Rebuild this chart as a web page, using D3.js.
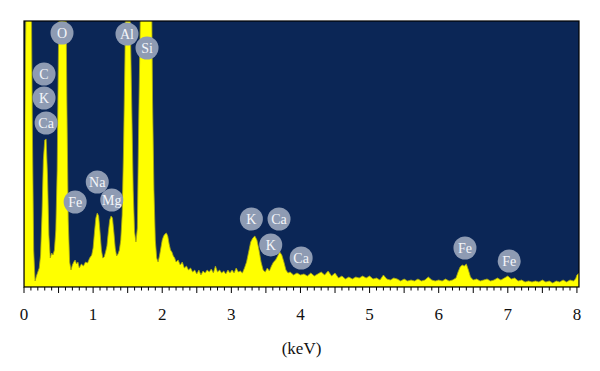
<!DOCTYPE html>
<html>
<head>
<meta charset="utf-8">
<script src="https://cdn.jsdelivr.net/npm/d3@7"></script>
<style>
    body { margin: 0; background: #fff; }
    svg { display: block; }
</style>
</head>
<body>
<div id="chart"></div>
<script>
// EDS spectrum, energy in keV vs counts
const energy = [
    0.00, 0.02, 0.04, 0.07, 0.10, 0.12, 0.14, 0.16, 0.18, 0.20, 0.22, 0.24, 0.26, 0.28, 0.30, 0.32, 0.34, 0.36, 0.38, 0.40,
    0.42, 0.44, 0.46, 0.48, 0.50, 0.52, 0.56, 0.60, 0.62, 0.64, 0.66, 0.68, 0.70, 0.72, 0.74, 0.76, 0.78, 0.80, 0.83, 0.86,
    0.89, 0.92, 0.95, 0.98, 1.00, 1.02, 1.04, 1.06, 1.08, 1.10, 1.12, 1.14, 1.16, 1.18, 1.20, 1.22, 1.24, 1.26, 1.28, 1.30,
    1.32, 1.34, 1.36, 1.38, 1.40, 1.42, 1.44, 1.46, 1.48, 1.50, 1.52, 1.54, 1.56, 1.58, 1.60, 1.62, 1.64, 1.66, 1.68, 1.70,
    1.76, 1.84, 1.86, 1.88, 1.90, 1.92, 1.94, 1.96, 1.98, 2.00, 2.02, 2.04, 2.06, 2.08, 2.10, 2.12, 2.14, 2.16, 2.18, 2.20,
    2.23, 2.26, 2.29, 2.32, 2.35, 2.38, 2.41, 2.44, 2.47, 2.50, 2.53, 2.56, 2.59, 2.62, 2.65, 2.68, 2.71, 2.74, 2.77, 2.80,
    2.83, 2.86, 2.89, 2.92, 2.95, 2.98, 3.01, 3.04, 3.07, 3.10, 3.13, 3.16, 3.19, 3.22, 3.25, 3.28, 3.31, 3.34, 3.37, 3.40,
    3.43, 3.46, 3.49, 3.52, 3.55, 3.58, 3.61, 3.64, 3.67, 3.70, 3.73, 3.76, 3.79, 3.82, 3.85, 3.90, 3.95, 4.00, 4.05, 4.10,
    4.15, 4.20, 4.25, 4.30, 4.35, 4.40, 4.45, 4.50, 4.55, 4.60, 4.65, 4.70, 4.75, 4.80, 4.85, 4.90, 4.95, 5.00, 5.05, 5.10,
    5.15, 5.20, 5.25, 5.30, 5.35, 5.40, 5.45, 5.50, 5.55, 5.60, 5.65, 5.70, 5.75, 5.80, 5.85, 5.90, 5.95, 6.00, 6.05, 6.10,
    6.15, 6.20, 6.25, 6.28, 6.31, 6.34, 6.37, 6.40, 6.43, 6.46, 6.50, 6.55, 6.60, 6.65, 6.70, 6.75, 6.80, 6.85, 6.90, 6.95,
    7.00, 7.05, 7.10, 7.15, 7.20, 7.25, 7.30, 7.35, 7.40, 7.45, 7.50, 7.55, 7.60, 7.65, 7.70, 7.75, 7.80, 7.85, 7.90, 7.95,
    7.98, 8.00, 8.03
];

const counts = [
    170, 2270, 3500, 3500, 3500, 1670, 370, 60, 110, 150, 190, 320, 720, 1270, 1470, 1480, 1120, 520, 290, 340,
    320, 370, 570, 1170, 2470, 3500, 3500, 3500, 1870, 670, 250, 170, 220, 250, 270, 230, 250, 190, 230, 210,
    250, 240, 290, 320, 390, 550, 690, 740, 710, 550, 370, 290, 300, 350, 410, 550, 670, 710, 690, 550,
    390, 310, 330, 370, 470, 720, 1370, 2270, 3500, 3500, 3500, 2570, 1770, 970, 550, 450, 590, 1670, 2570, 3500,
    3500, 3500, 1870, 970, 470, 290, 250, 310, 390, 470, 510, 530, 540, 510, 430, 370, 350, 310, 290, 250,
    270, 220, 250, 190, 210, 170, 190, 150, 170, 130, 170, 120, 160, 140, 170, 150, 180, 140, 210, 150,
    170, 140, 160, 130, 170, 140, 170, 140, 190, 150, 160, 140, 190, 250, 350, 450, 490, 510, 470, 370,
    250, 170, 150, 190, 160, 210, 250, 270, 310, 350, 320, 250, 170, 140, 150, 120, 140, 120, 130, 110,
    140, 110, 130, 150, 120, 160, 110, 140, 90, 110, 80, 100, 80, 100, 90, 110, 90, 110, 80, 90,
    70, 120, 80, 70, 90, 80, 60, 80, 60, 70, 60, 80, 60, 70, 100, 70, 60, 70, 60, 80,
    60, 70, 90, 150, 200, 220, 210, 230, 170, 100, 70, 80, 60, 70, 80, 60, 70, 90, 70, 90,
    110, 80, 90, 60, 70, 50, 60, 50, 60, 50, 70, 50, 60, 40, 60, 50, 70, 50, 70, 60,
    80, 120, 140
];

const xTicks = [0, 1, 2, 3, 4, 5, 6, 7, 8];

// element markers: symbol, energy (keV), count level of the marker centre
const markerText = ["O", "Al", "Si", "C", "K", "Ca", "Na", "Fe", "Mg", "K", "Ca", "K", "Ca", "Fe", "Fe"];
const markerKeV = [0.55, 1.49, 1.78, 0.29, 0.29, 0.32, 1.06, 0.74, 1.27, 3.29, 3.69, 3.57, 4.01, 6.38, 7.02];
const markerCount = [2540, 2530, 2390, 2130, 1890, 1640, 1050, 850, 870, 680, 680, 420, 290, 390, 260];

const width = 600;
const height = 371;
const margin = {top: 21, right: 21, bottom: 84, left: 24};
const plotW = width - margin.left - margin.right;
const plotH = height - margin.top - margin.bottom;

const x = d3.scaleLinear()
    .domain([0, 8.03])
    .range([0, plotW]);

const y = d3.scaleLinear()
    .domain([0, 2660])
    .range([plotH, 0]);

const svg = d3.select("#chart").append("svg")
    .attr("width", width)
    .attr("height", height);

const g = svg.append("g")
    .attr("transform", "translate(" + margin.left + "," + margin.top + ")");

g.append("defs").append("clipPath")
    .attr("id", "plot-clip")
    .append("rect")
    .attr("width", plotW)
    .attr("height", plotH);

g.append("rect")
    .attr("width", plotW)
    .attr("height", plotH)
    .attr("fill", "#0b2656");

const spectrum = energy.map((e, i) => ({e: e, c: counts[i]}));

const area = d3.area()
    .x(d => x(d.e))
    .y0(plotH)
    .y1(d => y(d.c));

g.append("path")
    .datum(spectrum)
    .attr("clip-path", "url(#plot-clip)")
    .attr("fill", "#ffff00")
    .attr("stroke", "#a6a414")
    .attr("stroke-width", 0.8)
    .attr("stroke-linejoin", "round")
    .attr("d", area);

// frame
g.append("rect")
    .attr("width", plotW)
    .attr("height", plotH)
    .attr("fill", "none")
    .attr("stroke", "#000")
    .attr("stroke-width", 1.2);

// minor ticks every 0.1 keV, longer at every 0.5 keV
const minor = d3.range(0, 81).map(i => i / 10);

g.append("g")
    .attr("class", "x axis")
    .selectAll("line")
    .data(minor)
    .enter().append("line")
    .attr("x1", d => x(d))
    .attr("x2", d => x(d))
    .attr("y1", plotH)
    .attr("y2", (d, i) => plotH + (i % 5 === 0 ? 6 : 3.5))
    .attr("stroke", "#000")
    .attr("stroke-width", 1);

g.append("g")
    .selectAll("text")
    .data(xTicks)
    .enter().append("text")
    .attr("x", d => x(d))
    .attr("y", plotH + 33)
    .attr("text-anchor", "middle")
    .attr("font-family", "'Liberation Serif', 'DejaVu Serif', serif")
    .attr("font-size", 17)
    .attr("fill", "#111")
    .text(d => d);

svg.append("text")
    .attr("x", margin.left + plotW / 2)
    .attr("y", 354)
    .attr("text-anchor", "middle")
    .attr("font-family", "'Liberation Serif', 'DejaVu Serif', serif")
    .attr("font-size", 17)
    .attr("fill", "#111")
    .text("(keV)");

const markers = g.selectAll(".marker")
    .data(markerText.map((t, i) => ({t: t, e: markerKeV[i], c: markerCount[i]})))
    .enter().append("g")
    .attr("class", "marker")
    .attr("transform", d => "translate(" + x(d.e) + "," + y(d.c) + ")");

markers.append("circle")
    .attr("r", 11.5)
    .attr("fill", "#8e9bb3");

markers.append("text")
    .attr("y", 5)
    .attr("text-anchor", "middle")
    .attr("font-family", "'Liberation Serif', 'DejaVu Serif', serif")
    .attr("font-size", 14)
    .attr("fill", "#f4f6fa")
    .text(d => d.t);
</script>
</body>
</html>
